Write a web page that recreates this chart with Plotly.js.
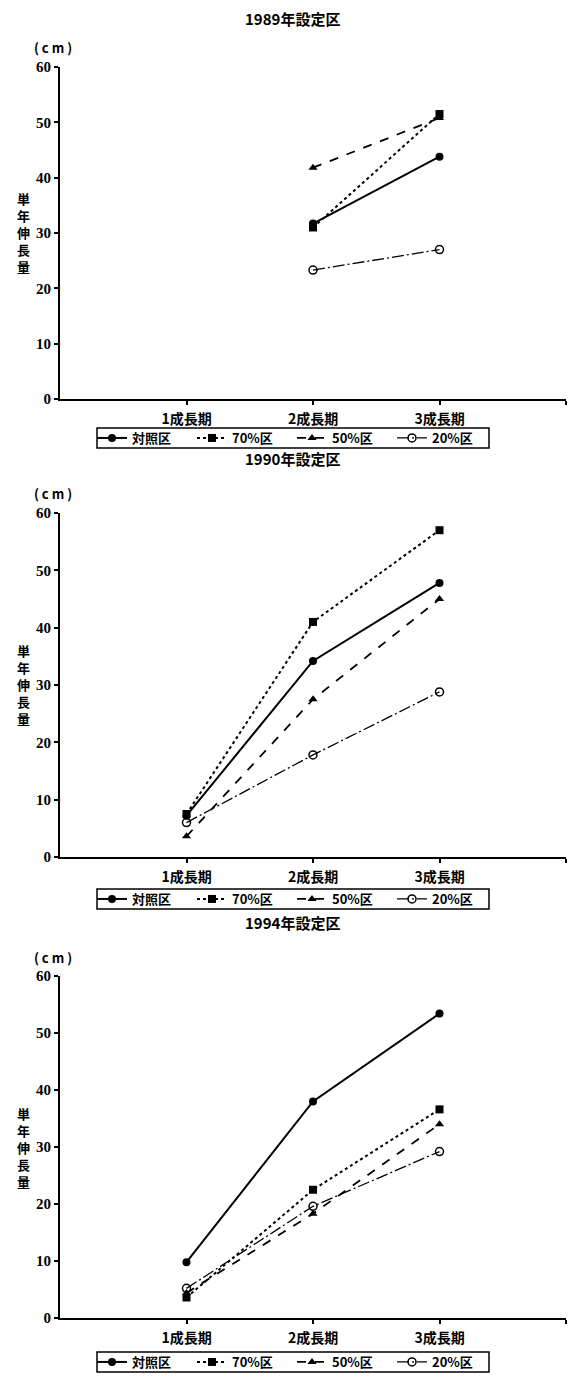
<!DOCTYPE html>
<html>
<head>
<meta charset="utf-8">
<script src="https://cdn.plot.ly/plotly-3.0.1.min.js"></script>
<style>html,body{margin:0;padding:0;background:#fff;}#chart{width:568px;height:1378px;}</style>
</head>
<body>
<div id="chart"></div>
<script>
// ---- data ----
const periods = [1, 2, 3];
const periodLabels = ["1成長期", "2成長期", "3成長期", ""];
const seriesNames = ["対照区", "70%区", "50%区", "20%区"];
const panelTitles = ["1989年設定区", "1990年設定区", "1994年設定区"];

// 1989年設定区
const p1989_control = [null, 31.7, 43.8];
const p1989_70 = [null, 31.0, 51.5];
const p1989_50 = [null, 41.8, 50.8];
const p1989_20 = [null, 23.3, 27.0];

// 1990年設定区
const p1990_control = [7.2, 34.2, 47.8];
const p1990_70 = [7.5, 41.0, 57.0];
const p1990_50 = [3.6, 27.5, 45.0];
const p1990_20 = [6.0, 17.8, 28.8];

// 1994年設定区
const p1994_control = [9.8, 38.0, 53.4];
const p1994_70 = [3.6, 22.5, 36.6];
const p1994_50 = [4.4, 18.3, 34.0];
const p1994_20 = [5.2, 19.6, 29.2];

const panels = [
  [p1989_control, p1989_70, p1989_50, p1989_20],
  [p1990_control, p1990_70, p1990_50, p1990_20],
  [p1994_control, p1994_70, p1994_50, p1994_20]
];

// ---- styles ----
const H = 1378, W = 568;
const py = px => 1 - px / H;
const styles = [
  {dash: "solid", symbol: "circle", width: 2},
  {dash: "dot", symbol: "square", width: 2},
  {dash: "dash", symbol: "triangle-up", width: 1.8},
  {dash: "12px,3px,2px,3px", symbol: "circle-open", width: 1.3}
];
const cjk = "'Noto Sans CJK JP', sans-serif";
const serif = "'Liberation Serif', 'DejaVu Serif', serif";

// plot areas (pixel top / bottom)
const areas = [[67, 399], [513, 857], [976, 1318]];
const legendTops = [428, 889, 1352];
const legendH = 20;

const traces = [];
panels.forEach((panel, pi) => {
  const ax = pi === 0 ? "" : String(pi + 1);
  panel.forEach((vals, si) => {
    const s = styles[si];
    traces.push({
      x: periods, y: vals, name: seriesNames[si],
      type: "scatter", mode: "lines+markers",
      xaxis: "x" + ax, yaxis: "y" + ax,
      legend: "legend" + ax,
      line: {color: "#000", width: s.width, dash: s.dash},
      marker: {symbol: s.symbol, size: 8, color: "#000",
               line: {color: "#000", width: si === 3 ? 1.5 : 0}},
      cliponaxis: false
    });
  });
});

const layout = {
  width: W, height: H,
  margin: {l: 0, r: 0, t: 0, b: 0},
  paper_bgcolor: "#fff", plot_bgcolor: "#fff",
  font: {family: cjk, color: "#000", size: 13, weight: "bold"},
  annotations: [], shapes: []
};

areas.forEach((a, i) => {
  const ax = i === 0 ? "" : String(i + 1);
  layout["xaxis" + ax] = {
    domain: [60 / W, 566 / W], anchor: "y" + ax,
    range: [0, 4], tickmode: "array", tickvals: [1, 2, 3, 4], ticktext: periodLabels,
    showline: true, linecolor: "#000", linewidth: 2,
    ticks: "outside", ticklen: 4, tickwidth: 2, tickcolor: "#000",
    ticklabelstandoff: 2,
    showgrid: false, zeroline: false, fixedrange: true,
    tickfont: {family: cjk, size: 14, weight: "bold", color: "#000"}
  };
  layout["yaxis" + ax] = {
    domain: [py(a[1]), py(a[0])], anchor: "x" + ax,
    range: [0, 60], dtick: 10, tick0: 0,
    showline: true, linecolor: "#000", linewidth: 2,
    ticks: "outside", ticklen: 4, tickwidth: 2, tickcolor: "#000",
    showgrid: false, zeroline: false, fixedrange: true,
    tickfont: {family: serif, size: 15, weight: "bold", color: "#000"}
  };
  layout["legend" + ax] = {
    orientation: "h", x: 92 / W, xanchor: "left",
    y: py(legendTops[i] + legendH / 2), yanchor: "middle",
    borderwidth: 0, bgcolor: "rgba(0,0,0,0)",
    font: {family: cjk, size: 13, weight: "bold", color: "#000"},
    itemwidth: 30, tracegroupgap: 0,
    entrywidth: 55, entrywidthmode: "pixels"
  };
  layout.shapes.push({
    type: "rect", xref: "paper", yref: "paper",
    x0: 97 / W, x1: 489 / W, y0: py(legendTops[i] + legendH), y1: py(legendTops[i]),
    line: {color: "#000", width: 1.5}, fillcolor: "rgba(0,0,0,0)", layer: "above"
  });
  layout.annotations.push({
    text: panelTitles[i], xref: "paper", yref: "y" + ax, x: 292 / W, y: 60,
    yshift: i === 0 ? 48 : 54, showarrow: false, xanchor: "center", yanchor: "middle",
    font: {family: cjk, size: 15, weight: "bold", color: "#000"}
  });
  layout.annotations.push({
    text: "( c m )", xref: "paper", yref: "y" + ax, x: 53 / W, y: 60,
    yshift: 19, showarrow: false, xanchor: "center", yanchor: "middle",
    font: {family: cjk, size: 13, weight: "bold", color: "#000"}
  });
  layout.annotations.push({
    text: "単<br>年<br>伸<br>長<br>量", xref: "paper", yref: "y" + ax, x: 23 / W, y: 30,
    showarrow: false, xanchor: "center", yanchor: "middle",
    font: {family: cjk, size: 13, weight: "bold", color: "#000"}
  });
});

Plotly.newPlot("chart", traces, layout, {displayModeBar: false, staticPlot: true});
</script>
</body>
</html>
